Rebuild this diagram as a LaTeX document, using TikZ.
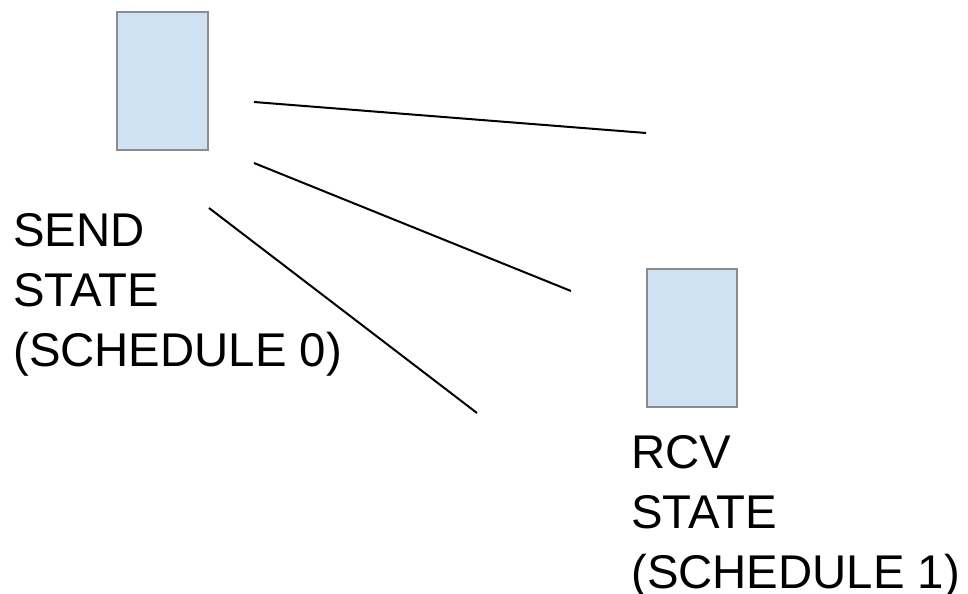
\documentclass[tikz,border=0pt]{standalone}
\usepackage{fontspec}
\setmainfont{Liberation Sans}
\definecolor{boxfill}{HTML}{CFE2F3}
\definecolor{boxline}{HTML}{8C8C8C}
\begin{document}
\begin{tikzpicture}[x=0.75pt,y=-0.75pt,
  statebox/.style={draw=boxline,fill=boxfill,line width=1.5pt,inner sep=0pt,minimum width=68pt,minimum height=103.5pt},
  label/.style={inner sep=0pt,align=left,font=\fontsize{35.5}{45}\selectfont,anchor=base west},
  wire/.style={line width=1.5pt,black}]
\useasboundingbox (0,0) rectangle (968,593);
\node[statebox] (s) at (162.5,80.5) {};
\node[statebox] (r) at (692,337.5) {};
\node[label] (sl) at (13,366) {SEND\\STATE\\(SCHEDULE 0)};
\node[label] (rl) at (631,588) {RCV\\STATE\\(SCHEDULE 1)};
\coordinate (a1) at (254,102);
\coordinate (b1) at (646,133);
\coordinate (a2) at (254,163);
\coordinate (b2) at (571,291);
\coordinate (a3) at (209,208);
\coordinate (b3) at (477,413);
\draw[wire] (a1) -- (b1);
\draw[wire] (a2) -- (b2);
\draw[wire] (a3) -- (b3);
\end{tikzpicture}
\end{document}
